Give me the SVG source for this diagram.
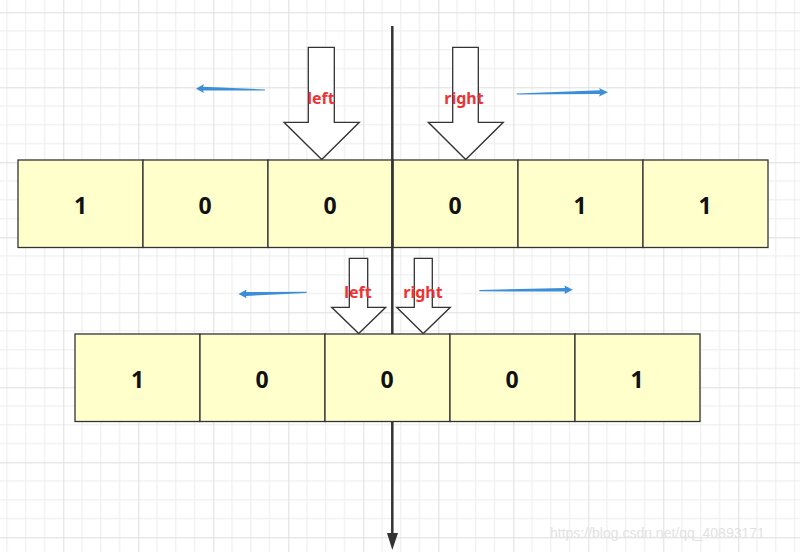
<svg xmlns="http://www.w3.org/2000/svg" width="800" height="552" viewBox="0 0 800 552">
<defs>
<pattern id="grid" patternUnits="userSpaceOnUse" x="-11.7" y="12.3" width="75" height="75">
<path d="M18.75 0V75M37.5 0V75M56.25 0V75M0 18.75H75M0 37.5H75M0 56.25H75" stroke="#ececec" stroke-width="1" fill="none"/>
<path d="M0.5 0V75M0 0.5H75" stroke="#dedede" stroke-width="1" fill="none"/>
</pattern>
<style>
.cell{fill:#ffffcc;stroke:#333;stroke-width:1.3}
.num{font-family:"Open Sans","Noto Sans",sans-serif;font-weight:bold;font-size:23px;fill:#111;text-anchor:middle;dominant-baseline:central}
.big{fill:#fff;stroke:#333;stroke-width:1.3}
.lbl{font-family:"Noto Sans","Open Sans",sans-serif;font-weight:bold;font-size:16px;fill:#ee3333;text-anchor:middle}
.blue{fill:#3d8ed8}
.wm{font-family:"Liberation Sans",Arial,sans-serif;font-size:14px;fill:#e2e2e2}
</style>
</defs>
<rect width="800" height="552" fill="#fff"/>
<rect width="800" height="552" fill="url(#grid)"/>

<g id="connectors">
<line x1="392.3" y1="26" x2="392.3" y2="536" stroke="#333" stroke-width="2.5"/>
<polygon points="387,533 398,533 392.3,550" fill="#333"/>
<polygon class="blue" points="265,89.4 203,86.8 204,84 196,88.7 204,93 203,90.4 265,90.6"/>
<polygon class="blue" points="516.7,93.4 600,90.3 599,88 608,92.3 599,96.5 600,94.1 516.7,94.6"/>
<polygon class="blue" points="306.7,291.7 246,292.1 246.5,289.5 238.5,294 246.5,298.3 246,295.9 306.7,292.9"/>
<polygon class="blue" points="479.3,290.1 565,287.9 564.5,285.5 572.8,289.7 564.5,293.9 565,291.6 479.3,291.3"/>
</g>

<g id="top-left-arrow">
<polygon class="big" points="308.3,47.3 334.3,47.3 334.3,122.3 359.3,122.3 321.7,159.5 284,122.3 308.3,122.3"/>
</g>
<g id="top-right-arrow">
<polygon class="big" points="452.7,47.3 478.3,47.3 478.3,122.3 503.3,122.3 465.7,159.5 428.3,122.3 452.7,122.3"/>
</g>
<text class="lbl" x="321" y="104">left</text>
<text class="lbl" x="464" y="104">right</text>

<g id="row1">
<g id="r1c1"><rect class="cell" x="18" y="160" width="125" height="87.5"/><text class="num" x="80.5" y="204.5">1</text></g>
<g id="r1c2"><rect class="cell" x="143" y="160" width="125" height="87.5"/><text class="num" x="205" y="204.5">0</text></g>
<g id="r1c3"><rect class="cell" x="268" y="160" width="125" height="87.5"/><text class="num" x="330" y="204.5">0</text></g>
<g id="r1c4"><rect class="cell" x="393" y="160" width="125" height="87.5"/><text class="num" x="455" y="204.5">0</text></g>
<g id="r1c5"><rect class="cell" x="518" y="160" width="125" height="87.5"/><text class="num" x="580" y="204.5">1</text></g>
<g id="r1c6"><rect class="cell" x="643" y="160" width="125" height="87.5"/><text class="num" x="705" y="204.5">1</text></g>
</g>
<line x1="392.3" y1="160" x2="392.3" y2="247.5" stroke="#333" stroke-width="2.5"/>

<g id="bottom-left-arrow">
<polygon class="big" points="349.3,258.3 367.7,258.3 367.7,307.3 385.7,307.3 358.7,333.5 331.7,307.3 349.3,307.3"/>
</g>
<g id="bottom-right-arrow">
<polygon class="big" points="414.3,258.3 432.3,258.3 432.3,307.3 450.3,307.3 423.3,333.5 396.7,307.3 414.3,307.3"/>
</g>
<text class="lbl" x="358" y="298">left</text>
<text class="lbl" x="423" y="298">right</text>

<g id="row2">
<g id="r2c1"><rect class="cell" x="75" y="334" width="125" height="87.5"/><text class="num" x="137.5" y="378.5">1</text></g>
<g id="r2c2"><rect class="cell" x="200" y="334" width="125" height="87.5"/><text class="num" x="262" y="378.5">0</text></g>
<g id="r2c3"><rect class="cell" x="325" y="334" width="125" height="87.5"/><text class="num" x="387" y="378.5">0</text></g>
<g id="r2c4"><rect class="cell" x="450" y="334" width="125" height="87.5"/><text class="num" x="512" y="378.5">0</text></g>
<g id="r2c5"><rect class="cell" x="575" y="334" width="125" height="87.5"/><text class="num" x="637" y="378.5">1</text></g>
</g>

<text class="wm" x="550" y="538">https://blog.csdn.net/qq_40893171</text>
</svg>
